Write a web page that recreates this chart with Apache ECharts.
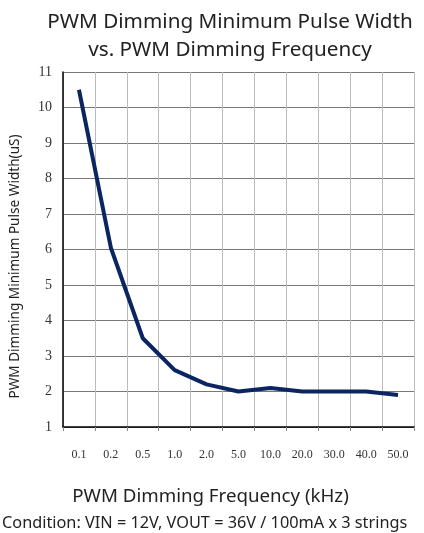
<!DOCTYPE html>
<html>
<head>
<meta charset="utf-8">
<script src="https://cdn.jsdelivr.net/npm/echarts@6/dist/echarts.min.js"></script>
<style>html,body{margin:0;padding:0;background:#fff;}#c{width:424px;height:533px;}</style>
</head>
<body>
<div id="c"></div>
<script>
var categories = ['0.1','0.2','0.5','1.0','2.0','5.0','10.0','20.0','30.0','40.0','50.0'];
var pulseWidth = [10.5, 6.05, 3.5, 2.6, 2.2, 2.0, 2.1, 2.0, 2.0, 2.0, 1.9];
var yMin = 1, yMax = 11, yStep = 1;

var chart = echarts.init(document.getElementById('c'));
chart.setOption({
  animation: false,
  backgroundColor: '#fff',
  title: [
    {
      text: 'PWM Dimming Minimum Pulse Width\nvs. PWM Dimming Frequency',
      left: 225, top: 3, textAlign: 'center',
      textStyle: { fontFamily: 'Noto Sans', fontSize: 20.7, fontWeight: 'normal', color: '#222', lineHeight: 28 }
    },
    {
      text: 'Condition: VIN = 12V, VOUT = 36V / 100mA x 3 strings',
      left: -3, top: 510,
      textStyle: { fontFamily: 'Noto Sans', fontSize: 16.3, fontWeight: 'normal', color: '#222' }
    }
  ],
  grid: { left: 60, right: 10, top: 72, bottom: 106 },
  xAxis: {
    type: 'category',
    data: categories,
    boundaryGap: true,
    name: 'PWM Dimming Frequency (kHz)',
    nameLocation: 'middle',
    nameGap: 60,
    nameTextStyle: { fontFamily: 'Noto Sans', fontSize: 18.7, color: '#222', padding: [0, 56, 0, 0] },
    axisLine: { lineStyle: { color: '#000', width: 1.5 } },
    axisTick: { show: true, length: 4, lineStyle: { color: '#888' } },
    axisLabel: { fontFamily: 'Liberation Serif', fontSize: 12, color: '#333', margin: 22 },
    splitLine: { show: true, lineStyle: { color: '#bbb', width: 1 } }
  },
  yAxis: {
    type: 'value',
    min: yMin, max: yMax, interval: yStep,
    name: 'PWM Dimming Minimum Pulse Width(uS)',
    nameLocation: 'middle',
    nameGap: 41,
    nameTextStyle: { fontFamily: 'Noto Sans', fontSize: 13.6, color: '#222', padding: [0, 34, 0, 0] },
    axisLine: { show: true, lineStyle: { color: '#000', width: 1.5 } },
    axisTick: { show: false },
    axisLabel: { fontFamily: 'Liberation Serif', fontSize: 14, color: '#333', margin: 11 },
    splitLine: { show: true, lineStyle: { color: '#777', width: 1 } }
  },
  series: [{
    type: 'line',
    data: pulseWidth,
    symbol: 'none',
    lineStyle: { color: '#0b2560', width: 4 },
    z: 5
  }]
});
</script>
</body>
</html>
